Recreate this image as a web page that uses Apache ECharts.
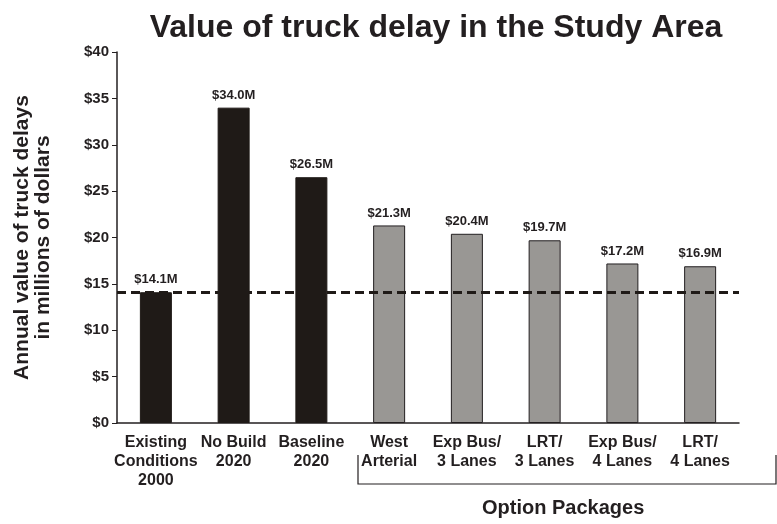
<!DOCTYPE html>
<html>
<head>
<meta charset="UTF-8">
<title>truck-delay-value</title>
<script src="https://cdn.jsdelivr.net/npm/echarts@6/dist/echarts.min.js"></script>
<style type="text/css">
html, body {
	margin: 0;
	padding: 0;
	background: #fff;
}

#main {
	width: 777px;
	height: 524px;
}
</style>
</head>
<body>
	<div id="main"></div>
	<script type="text/javascript">
		// categories and values
		var categories = [ 'Existing\nConditions\n2000', 'No Build\n2020', 'Baseline\n2020',
				'West\nArterial', 'Exp Bus/\n3 Lanes', 'LRT/\n3 Lanes', 'Exp Bus/\n4 Lanes', 'LRT/\n4 Lanes' ];
		var delayValues = [ 14.1, 34.0, 26.5, 21.3, 20.4, 19.7, 17.2, 16.9 ];
		var isOption = [ false, false, false, true, true, true, true, true ];
		var existingLevel = 14.1;
		var yTicks = [ 0, 5, 10, 15, 20, 25, 30, 35, 40 ];

		var font = 'Arial, "Liberation Sans", Helvetica, sans-serif';
		var ink = '#231f20';

		var barData = [];
		for ( var i = 0; i < delayValues.length; i++) {
			barData.push({
				value : delayValues[i],
				itemStyle : isOption[i] ? {
					color : '#999794',
					borderColor : ink,
					borderWidth : 1
				} : {
					color : '#1f1a17',
					borderColor : '#1f1a17',
					borderWidth : 1
				}
			});
		}

		var myChart = echarts.init(document.getElementById('main'));

		var option = {
			animation : false,
			textStyle : {
				fontFamily : font,
				color : ink
			},
			title : {
				text : 'Value of truck delay in the Study Area',
				left : 431,
				textAlign : 'center',
				top : 7,
				textStyle : {
					fontFamily : font,
					fontSize : 32,
					fontWeight : 'bold',
					color : ink
				}
			},
			grid : {
				left : 117,
				right : 38,
				top : 52,
				bottom : 101,
				containLabel : false,
				outerBoundsMode : 'none'
			},
			xAxis : {
				type : 'category',
				data : categories,
				axisLine : {
					lineStyle : {
						color : ink,
						width : 1.5
					}
				},
				axisTick : {
					show : false
				},
				axisLabel : {
					interval : 0,
					margin : 10,
					fontSize : 16,
					fontWeight : 'bold',
					lineHeight : 19,
					color : ink,
					fontFamily : font
				}
			},
			yAxis : {
				type : 'value',
				min : yTicks[0],
				max : yTicks[yTicks.length - 1],
				interval : 5,
				name : 'Annual value of truck delays\nin millions of dollars',
				nameLocation : 'middle',
				nameGap : 63,
				nameRotate : 90,
				nameTextStyle : {
					fontFamily : font,
					fontSize : 21,
					fontWeight : 'bold',
					lineHeight : 21,
					color : ink
				},
				axisLine : {
					show : true,
					lineStyle : {
						color : ink,
						width : 1.5
					}
				},
				axisTick : {
					show : true,
					length : 5,
					lineStyle : {
						color : ink
					}
				},
				splitLine : {
					show : false
				},
				axisLabel : {
					margin : 8,
					fontSize : 15,
					fontWeight : 'bold',
					color : ink,
					fontFamily : font,
					formatter : function(v) {
						return '$' + v;
					}
				}
			},
			series : [ {
				type : 'bar',
				data : barData,
				barWidth : 32,
				label : {
					show : true,
					position : 'top',
					distance : 6,
					fontSize : 13,
					fontWeight : 'bold',
					color : ink,
					fontFamily : font,
					formatter : function(p) {
						return '$' + p.value.toFixed(1) + 'M';
					}
				},
				markLine : {
					silent : true,
					symbol : 'none',
					label : {
						show : false
					},
					lineStyle : {
						color : '#1f1a17',
						width : 3,
						type : [ 9, 5 ]
					},
					data : [ {
						yAxis : existingLevel
					} ]
				}
			} ],
			graphic : [ {
				type : 'polyline',
				shape : {
					points : [ [ 358, 455 ], [ 358, 484 ], [ 776, 484 ], [ 776, 455 ] ]
				},
				style : {
					stroke : ink,
					lineWidth : 1.2,
					fill : null
				}
			}, {
				type : 'text',
				left : 482,
				top : 498,
				style : {
					text : 'Option Packages',
					font : 'bold 20px ' + font,
					fill : ink
				}
			} ]
		};

		myChart.setOption(option);
	</script>
</body>
</html>
